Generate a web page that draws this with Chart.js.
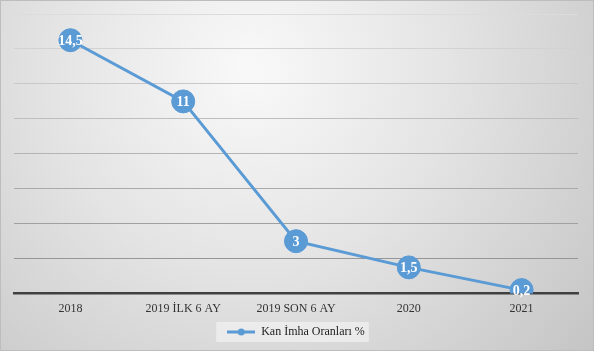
<!DOCTYPE html>
<html>
<head>
<meta charset="utf-8">
<script src="https://cdn.jsdelivr.net/npm/chart.js@4"></script>
<style>
html, body { margin:0; padding:0; background:#fff; }
#wrap { position:relative; width:594px; height:351px; }
</style>
</head>
<body>
<div id="wrap"><canvas id="c"></canvas></div>
<script>
const categories = ['2018', '2019 İLK 6 AY', '2019 SON 6 AY', '2020', '2021'];
const values = [14.5, 11, 3, 1.5, 0.2];
const valueLabels = ['14,5', '11', '3', '1,5', '0,2'];
const seriesName = 'Kan İmha Oranları %';
const yMax = 16, yStep = 2;

const blue = '#5b9bd5';
const serif = "'Liberation Serif', 'Times New Roman', serif";

// small line+dot symbol for the legend
const sym = (() => {
	const a = document.createElement('canvas');
	a.width = 28; a.height = 10;
	const x = a.getContext('2d');
	x.strokeStyle = blue; x.lineWidth = 3;
	x.beginPath(); x.moveTo(0, 5); x.lineTo(28, 5); x.stroke();
	x.fillStyle = blue;
	x.beginPath(); x.arc(14, 5, 3.5, 0, Math.PI * 2); x.fill();
	return a;
})();

const bgPlugin = {
	id: 'bg',
	beforeDraw: ch => {
		const g = ch.ctx, w = ch.width, h = ch.height;
		const r = g.createRadialGradient(250, 70, 10, 250, 70, 480);
		r.addColorStop(0, '#f8f8f8');
		r.addColorStop(0.4, '#e4e4e4');
		r.addColorStop(1, '#c0c0c0');
		g.save();
		g.fillStyle = r;
		g.fillRect(0, 0, w, h);
		g.strokeStyle = '#bdbdbd';
		g.lineWidth = 1;
		g.strokeRect(0.5, 0.5, w - 1, h - 1);
		const hb = ch.legend && ch.legend.legendHitBoxes && ch.legend.legendHitBoxes[0];
		if (hb) {
			g.fillStyle = 'rgba(240,240,240,0.75)';
			g.fillRect(hb.left - 11, hb.top - 4, hb.width + 15, hb.height + 8);
		}
		g.restore();
	}
};

const labelPlugin = {
	id: 'vlabels',
	afterDatasetsDraw: ch => {
		const g = ch.ctx;
		const pts = ch.getDatasetMeta(0).data;
		g.save();
		g.fillStyle = '#fff';
		g.font = 'bold 14px ' + serif;
		g.textAlign = 'center';
		g.textBaseline = 'middle';
		pts.forEach((p, i) => g.fillText(valueLabels[i], p.x, p.y + 1));
		g.restore();
	}
};

const shade = v => {
	const t = v / yMax;
	const c = Math.round(140 + t * 80);
	return 'rgb(' + c + ',' + c + ',' + c + ')';
};

new Chart(document.getElementById('c'), {
	type: 'line',
	data: {
		labels: categories,
		datasets: [{
			label: seriesName,
			data: values,
			borderColor: blue,
			backgroundColor: blue,
			borderWidth: 3,
			pointRadius: 11.5,
			pointHoverRadius: 11.5,
			pointBackgroundColor: blue,
			pointBorderColor: blue,
			pointBorderWidth: 1,
			tension: 0,
		}]
	},
	options: {
		responsive: true,
		maintainAspectRatio: false,
		animation: false,
		layout: { padding: { left: 14, right: 16, top: 14, bottom: 3 } },
		plugins: {
			tooltip: { enabled: false },
			legend: {
				position: 'bottom',
				labels: {
					color: '#222',
					font: { family: serif, size: 12 },
					usePointStyle: true,
					pointStyleWidth: 28,
					padding: 10,
					generateLabels: ch => [{
						text: seriesName,
						pointStyle: sym,
						fillStyle: blue,
						strokeStyle: blue,
						lineWidth: 0,
						datasetIndex: 0,
						fontColor: '#222',
					}],
				},
			},
		},
		scales: {
			x: {
				offset: true,
				grid: { display: false },
				border: { color: '#404040', width: 2.5 },
				ticks: {
					color: '#333',
					padding: 0,
					font: { family: serif, size: 12 },
				},
			},
			y: {
				min: 0,
				max: yMax,
				ticks: { display: false, stepSize: yStep },
				border: { display: false },
				grid: {
					drawTicks: false,
					color: c => shade(c.tick.value),
					lineWidth: 1,
				},
			},
		},
	},
	plugins: [bgPlugin, labelPlugin],
});
</script>
</body>
</html>
